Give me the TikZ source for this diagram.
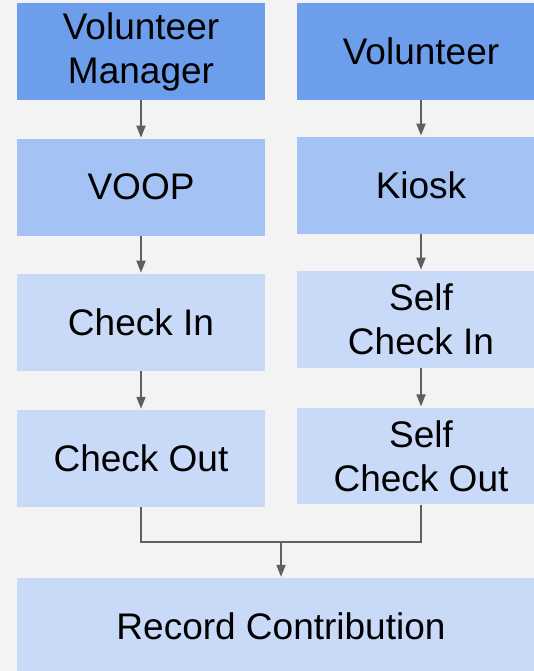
\documentclass[tikz,border=0pt]{standalone}
\usepackage{fontspec}
\setmainfont{Liberation Sans}
\usetikzlibrary{arrows.meta}
\definecolor{bgcol}{HTML}{F3F3F3}
\definecolor{darkblue}{HTML}{6D9EEB}
\definecolor{midblue}{HTML}{A4C2F4}
\definecolor{lightblue}{HTML}{C9DAF8}
\definecolor{linecol}{HTML}{5F5F5F}
\begin{document}
\begin{tikzpicture}[x=1pt,y=-1pt,
  box/.style={rectangle, inner sep=0pt, minimum width=248pt, minimum height=96.7pt,
    align=center, font=\fontsize{37}{44}\selectfont, text=black},
  toprow/.style={box, fill=darkblue},
  secondrow/.style={box, fill=midblue},
  lowrow/.style={box, fill=lightblue},
  flow/.style={draw=linecol, line width=1.8pt, -{Triangle[length=12pt,width=9pt]}, shorten >=1pt},
  joint/.style={draw=linecol, line width=1.8pt}]
  % canvas
  \fill[bgcol] (0,0) rectangle (534,671);
  \useasboundingbox (0,0) rectangle (534,671);
  \begin{scope}
  \clip (0,0) rectangle (534,671);
  % left column: staff-driven path
  \node[toprow]   (vm)    at (141,51.7)  {Volunteer\\Manager};
  \node[secondrow](voop)  at (141,187.2) {VOOP};
  \node[lowrow]   (ci)    at (141,322.2) {Check In};
  \node[lowrow]   (co)    at (141,458.3) {Check Out};
  % right column: self-service path
  \node[toprow]   (vol)   at (421,51.7)  {Volunteer};
  \node[secondrow](kiosk) at (421,185.2) {Kiosk};
  \node[lowrow]   (sci)   at (421,319.2) {Self\\Check In};
  \node[lowrow]   (sco)   at (421,456.0) {Self\\Check Out};
  % shared outcome
  \node[lowrow, minimum width=528pt, minimum height=96.5pt] (rc) at (281,626.3) {Record Contribution};
  % connectors
  \draw[flow] (vm) -- (voop);
  \draw[flow] (voop) -- (ci);
  \draw[flow] (ci) -- (co);
  \draw[flow] (vol) -- (kiosk);
  \draw[flow] (kiosk) -- (sci);
  \draw[flow] (sci) -- (sco);
  \coordinate (merge) at (281,541.6);
  \draw[joint] (co.south) |- (merge);
  \draw[joint] (sco.south) |- (merge);
  \draw[flow] (merge) -- (rc.north);
  \end{scope}
\end{tikzpicture}
\end{document}
